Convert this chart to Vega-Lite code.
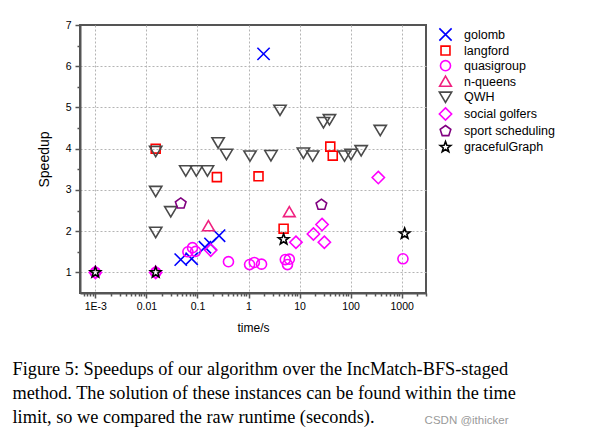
{
  "$schema": "https://vega.github.io/schema/vega-lite/v6.json",
  "width": 346,
  "height": 268,
  "autosize": {"type": "none"},
  "padding": {"left": 80, "top": 25, "right": 175, "bottom": 142},
  "background": "white",
  "data": {
    "values": [
      {"s": "golomb", "t": 0.047, "v": 1.31},
      {"s": "golomb", "t": 0.077, "v": 1.33},
      {"s": "golomb", "t": 0.14, "v": 1.61},
      {"s": "golomb", "t": 0.18, "v": 1.69},
      {"s": "golomb", "t": 0.265, "v": 1.89},
      {"s": "golomb", "t": 1.97, "v": 6.3},
      {"s": "langford", "t": 0.0152, "v": 4.0},
      {"s": "langford", "t": 0.24, "v": 3.31},
      {"s": "langford", "t": 1.57, "v": 3.33},
      {"s": "langford", "t": 4.87, "v": 2.06},
      {"s": "langford", "t": 40, "v": 4.05},
      {"s": "langford", "t": 44.7, "v": 3.83},
      {"s": "quasigroup", "t": 0.001, "v": 1},
      {"s": "quasigroup", "t": 0.0152, "v": 1},
      {"s": "quasigroup", "t": 0.065, "v": 1.5},
      {"s": "quasigroup", "t": 0.08, "v": 1.6},
      {"s": "quasigroup", "t": 0.092, "v": 1.51},
      {"s": "quasigroup", "t": 0.405, "v": 1.26},
      {"s": "quasigroup", "t": 1.05, "v": 1.19},
      {"s": "quasigroup", "t": 1.3, "v": 1.24},
      {"s": "quasigroup", "t": 1.8, "v": 1.2},
      {"s": "quasigroup", "t": 5.26, "v": 1.31},
      {"s": "quasigroup", "t": 6.3, "v": 1.32},
      {"s": "quasigroup", "t": 5.8, "v": 1.19},
      {"s": "quasigroup", "t": 1060, "v": 1.33},
      {"s": "n-queens", "t": 0.164, "v": 2.12},
      {"s": "n-queens", "t": 6.3, "v": 2.46},
      {"s": "QWH", "t": 0.0152, "v": 3.94},
      {"s": "QWH", "t": 0.0152, "v": 2.97},
      {"s": "QWH", "t": 0.0152, "v": 1.98},
      {"s": "QWH", "t": 0.03, "v": 2.48},
      {"s": "QWH", "t": 0.059, "v": 3.47},
      {"s": "QWH", "t": 0.095, "v": 3.47},
      {"s": "QWH", "t": 0.157, "v": 3.47},
      {"s": "QWH", "t": 0.254, "v": 4.15},
      {"s": "QWH", "t": 0.37, "v": 3.87},
      {"s": "QWH", "t": 1.07, "v": 3.83},
      {"s": "QWH", "t": 2.75, "v": 3.84},
      {"s": "QWH", "t": 4.14, "v": 4.94},
      {"s": "QWH", "t": 11.9, "v": 3.9},
      {"s": "QWH", "t": 18.1, "v": 3.83},
      {"s": "QWH", "t": 29.4, "v": 4.64},
      {"s": "QWH", "t": 38.5, "v": 4.71},
      {"s": "QWH", "t": 76, "v": 3.83},
      {"s": "QWH", "t": 102, "v": 3.87},
      {"s": "QWH", "t": 161, "v": 3.96},
      {"s": "QWH", "t": 381, "v": 4.45},
      {"s": "social golfers", "t": 0.001, "v": 1},
      {"s": "social golfers", "t": 0.0152, "v": 1},
      {"s": "social golfers", "t": 0.182, "v": 1.54},
      {"s": "social golfers", "t": 8.5, "v": 1.73},
      {"s": "social golfers", "t": 18.7, "v": 1.93},
      {"s": "social golfers", "t": 27.6, "v": 2.16},
      {"s": "social golfers", "t": 30.6, "v": 1.73},
      {"s": "social golfers", "t": 349, "v": 3.3},
      {"s": "sport scheduling", "t": 0.047, "v": 2.67},
      {"s": "sport scheduling", "t": 26.8, "v": 2.64},
      {"s": "gracefulGraph", "t": 0.001, "v": 1},
      {"s": "gracefulGraph", "t": 0.0152, "v": 1},
      {"s": "gracefulGraph", "t": 4.87, "v": 1.8},
      {"s": "gracefulGraph", "t": 1145, "v": 1.94}
    ]
  },
  "layer": [
    {
      "mark": {"type": "point", "filled": false, "strokeWidth": 1.6, "size": 125, "opacity": 1},
      "encoding": {
        "x": {
          "field": "t",
          "type": "quantitative",
          "scale": {"type": "log", "domain": [0.0005, 3000], "nice": false},
          "axis": {
            "title": "time/s",
            "titleFontSize": 12,
            "values": [0.0006, 0.0007, 0.0008, 0.0009, 0.001, 0.002, 0.003, 0.004, 0.005, 0.006, 0.007, 0.008, 0.009, 0.01, 0.02, 0.03, 0.04, 0.05, 0.06, 0.07, 0.08, 0.09, 0.1, 0.2, 0.3, 0.4, 0.5, 0.6, 0.7, 0.8, 0.9, 1, 2, 3, 4, 5, 6, 7, 8, 9, 10, 20, 30, 40, 50, 60, 70, 80, 90, 100, 200, 300, 400, 500, 600, 700, 800, 900, 1000, 2000, 3000],
            "labelExpr": "abs(log(datum.value)/LN10 - round(log(datum.value)/LN10)) < 1e-6 ? (datum.value < 0.005 ? '1E-3' : format(datum.value, '~g')) : ''",
            "tickSize": {"condition": {"test": "abs(log(datum.value)/LN10 - round(log(datum.value)/LN10)) < 1e-6", "value": 5}, "value": 3},
            "gridOpacity": {"condition": {"test": "abs(log(datum.value)/LN10 - round(log(datum.value)/LN10)) < 1e-6", "value": 1}, "value": 0},
            "labelPadding": 3,
            "titlePadding": 10.5,
            "labelFlush": false,
            "labelOverlap": false
          }
        },
        "y": {
          "field": "v",
          "type": "quantitative",
          "scale": {"domain": [0.5, 7], "nice": false, "zero": false},
          "axis": {
            "title": "Speedup",
            "titleFontSize": 14,
            "values": [1, 1.5, 2, 2.5, 3, 3.5, 4, 4.5, 5, 5.5, 6, 6.5, 7],
            "labelExpr": "datum.value % 1 == 0 ? format(datum.value, 'd') : ''",
            "tickSize": {"condition": {"test": "datum.value % 1 == 0", "value": 5}, "value": 3},
            "gridOpacity": {"condition": {"test": "datum.value % 1 == 0 && datum.value < 7", "value": 1}, "value": 0},
            "labelPadding": 4,
            "titlePadding": 14,
            "labelFlush": false,
            "labelOverlap": false
          }
        },
        "color": {
          "field": "s",
          "type": "nominal",
          "scale": {
            "domain": ["golomb", "langford", "quasigroup", "n-queens", "QWH", "social golfers", "sport scheduling", "gracefulGraph"],
            "range": ["#0000FF", "#FF0000", "#FF00FF", "#F0207F", "#4A4A4A", "#FF00FF", "#800080", "#000000"]
          },
          "legend": {"title": null}
        },
        "shape": {
          "field": "s",
          "type": "nominal",
          "scale": {
            "domain": ["golomb", "langford", "quasigroup", "n-queens", "QWH", "social golfers", "sport scheduling", "gracefulGraph"],
            "range": [
              "M-1.1,-1.1L1.1,1.1M-1.1,1.1L1.1,-1.1",
              "M-0.8,-0.8H0.8V0.8H-0.8Z",
              "M0.9,0A0.9,0.9,0,1,1,-0.9,0A0.9,0.9,0,1,1,0.9,0Z",
              "M0,-1L1.05,0.8L-1.05,0.8Z",
              "M-1.1,-0.85L1.1,-0.85L0,1Z",
              "M0,-1.1L1.1,0L0,1.1L-1.1,0Z",
              "M0,-1L0.951,-0.309L0.588,0.809L-0.588,0.809L-0.951,-0.309Z",
              "M0,-1L0.247,-0.34L0.951,-0.309L0.399,0.13L0.588,0.809L0,0.42L-0.588,0.809L-0.399,0.13L-0.951,-0.309L-0.247,-0.34Z"
            ]
          },
          "legend": {"title": null}
        }
      }
    },
    {
      "transform": [{"filter": "datum.t < 0"}],
      "mark": {"type": "point", "opacity": 0},
      "encoding": {
        "x": {
          "field": "t",
          "type": "quantitative",
          "axis": {
            "orient": "bottom",
            "title": ["Figure 5: Speedups of our algorithm over the IncMatch-BFS-staged", "method. The solution of these instances can be found within the time", "limit, so we compared the raw runtime (seconds)."],
            "domain": false,
            "ticks": false,
            "labels": false,
            "grid": false,
            "titleFont": "Liberation Serif",
            "titleFontSize": 18.3,
            "titleFontWeight": "normal",
            "titleColor": "#000000",
            "titleLineHeight": 24.2,
            "titleAlign": "left",
            "titleBaseline": "alphabetic",
            "titleAngle": 0,
            "titleX": -68,
            "titleY": 81
          }
        }
      }
    },
    {
      "transform": [{"filter": "datum.t < 0"}],
      "mark": {"type": "point", "opacity": 0},
      "encoding": {
        "x": {
          "field": "t",
          "type": "quantitative",
          "axis": {
            "orient": "bottom",
            "title": "CSDN @ithicker",
            "domain": false,
            "ticks": false,
            "labels": false,
            "grid": false,
            "titleFont": "Liberation Sans",
            "titleFontSize": 11.5,
            "titleColor": "#9a9a9a",
            "titleAlign": "right",
            "titleBaseline": "middle",
            "titleAngle": 0,
            "titleX": 428,
            "titleY": 127.7
          }
        }
      }
    }
  ],
  "resolve": {"axis": {"x": "independent"}},
  "config": {
    "view": {"stroke": "#555555", "strokeWidth": 2},
    "axis": {
      "domainColor": "#555555",
      "domainWidth": 2,
      "tickColor": "#555555",
      "tickWidth": 1.5,
      "labelFont": "Liberation Sans",
      "labelFontSize": 10.5,
      "labelColor": "#000000",
      "titleFont": "Liberation Sans",
      "titleFontSize": 13,
      "titleFontWeight": "normal",
      "titleColor": "#000000",
      "gridColor": "#b4b4b4",
      "gridDash": [2, 2],
      "gridWidth": 1
    },
    "legend": {
      "orient": "none",
      "legendX": 359,
      "legendY": 3,
      "padding": 0,
      "labelFont": "Liberation Sans",
      "labelFontSize": 12.5,
      "labelColor": "#000000",
      "labelOffset": 12,
      "symbolSize": 125,
      "symbolStrokeWidth": 1.6,
      "rowPadding": -1.9
    }
  }
}
